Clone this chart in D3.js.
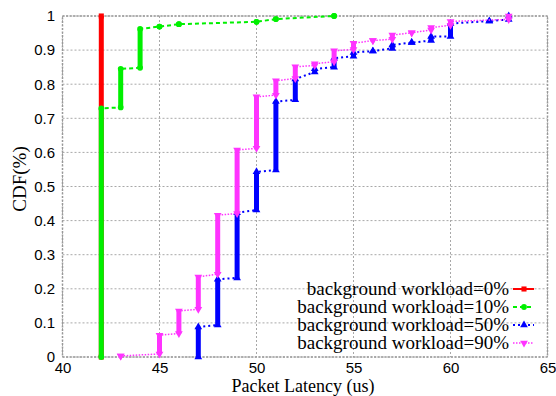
<!DOCTYPE html>
<html>
<head>
<meta charset="utf-8">
<script src="https://cdn.jsdelivr.net/npm/d3@7"></script>
<style>
  html, body { margin: 0; padding: 0; background: #fff; }
  svg { display: block; }
</style>
</head>
<body>
<svg id="chart" width="556" height="396"></svg>
<script>
// ---- data ----
const xTicks = [40, 45, 50, 55, 60, 65];
const xTickLabels = ["40", "45", "50", "55", "60", "65"];
const yTicks = [0, 0.1, 0.2, 0.3, 0.4, 0.5, 0.6, 0.7, 0.8, 0.9, 1];
const yTickLabels = ["0", "0.1", "0.2", "0.3", "0.4", "0.5", "0.6", "0.7", "0.8", "0.9", "1"];

const seriesNames = ["background workload=0%", "background workload=10%", "background workload=50%", "background workload=90%"];

// latency (us) and the CDF range covered by the samples at that latency
const redLatency = [42];
const redLow = [0];
const redHigh = [1];

const greenLatency = [42, 43, 44, 45, 46, 50, 51, 54];
const greenLow  = [0,     0.732, 0.848, 0.969, 0.976, 0.983, 0.991, 1.0];
const greenHigh = [0.729, 0.845, 0.962, 0.969, 0.976, 0.983, 0.991, 1.0];

const blueLatency = [47, 48, 49, 50, 51, 52, 53, 54, 55, 56, 57, 58, 59, 60, 62, 63];
const blueLow  = [0,     0.094, 0.232, 0.431, 0.548, 0.754, 0.836, 0.850, 0.882, 0.897, 0.905, 0.922, 0.928, 0.940, 0.985, 0.990];
const blueHigh = [0.088, 0.228, 0.423, 0.543, 0.749, 0.815, 0.845, 0.876, 0.893, 0.897, 0.915, 0.922, 0.940, 0.978, 0.985, 1.0];

const magentaLatency = [43, 45, 46, 47, 48, 49, 50, 51, 52, 53, 54, 55, 56, 57, 58, 59, 60, 63];
const magentaLow  = [0.003, 0.009, 0.069, 0.140, 0.243, 0.421, 0.612, 0.768, 0.817, 0.855, 0.866, 0.902, 0.928, 0.932, 0.951, 0.959, 0.973, 0.990];
const magentaHigh = [0.003, 0.064, 0.135, 0.235, 0.416, 0.607, 0.763, 0.810, 0.851, 0.860, 0.898, 0.920, 0.928, 0.944, 0.951, 0.966, 0.984, 1.0];

// ---- styles ----
const styles = [
  { color: "#ff0000", dash: null,      lw: 2,   marker: "square" },
  { color: "#00f000", dash: "4,3",     lw: 2,   marker: "circle" },
  { color: "#0000ff", dash: "2,3",     lw: 2,   marker: "triUp" },
  { color: "#ff33ff", dash: "1.5,1.5", lw: 1.5, marker: "triDown" }
];
const series = [
  { lat: redLatency, lo: redLow, hi: redHigh },
  { lat: greenLatency, lo: greenLow, hi: greenHigh },
  { lat: blueLatency, lo: blueLow, hi: blueHigh },
  { lat: magentaLatency, lo: magentaLow, hi: magentaHigh }
];

const svg = d3.select("#chart");
const pLeft = 62.5, pRight = 547.5, pTop = 16, pBottom = 357;
const x = d3.scaleLinear().domain([40, 65]).range([pLeft, pRight]);
const y = d3.scaleLinear().domain([0, 1]).range([pBottom, pTop]);

// grid
const grid = svg.append("g").attr("stroke", "#a8a8a8").attr("stroke-width", 1).attr("stroke-dasharray", "2,2");
grid.selectAll("line.gx").data(xTicks).join("line")
  .attr("x1", d => x(d)).attr("x2", d => x(d)).attr("y1", pTop).attr("y2", pBottom);
grid.selectAll("line.gy").data(yTicks).join("line")
  .attr("x1", pLeft).attr("x2", pRight).attr("y1", d => y(d)).attr("y2", d => y(d));
svg.append("rect").attr("x", pLeft).attr("y", pTop).attr("width", pRight - pLeft).attr("height", pBottom - pTop)
  .attr("fill", "none").attr("stroke", "#999").attr("stroke-width", 1.5).attr("stroke-dasharray", "2,1.5");

// axes
const xAxis = svg.append("g").attr("transform", `translate(0,${pBottom})`)
  .call(d3.axisBottom(x).tickValues(xTicks).tickFormat((d, i) => xTickLabels[i]).tickSize(0).tickPadding(5));
const yAxis = svg.append("g").attr("transform", `translate(${pLeft},0)`)
  .call(d3.axisLeft(y).tickValues(yTicks).tickFormat((d, i) => yTickLabels[i]).tickSize(0).tickPadding(7.5));
[xAxis, yAxis].forEach(a => {
  a.select(".domain").remove();
  a.attr("font-family", "'Liberation Sans', Arial, sans-serif").attr("font-size", 15);
  a.selectAll("text").attr("fill", "#000");
});

// marker symbol
function markerPath(type, size) {
  const map = { square: d3.symbolSquare, circle: d3.symbolCircle, triUp: d3.symbolTriangle, triDown: d3.symbolTriangle };
  return d3.symbol().type(map[type]).size(size)();
}
function drawMarker(g, type, cx, cy, color, size) {
  g.append("path").attr("d", markerPath(type, size))
    .attr("transform", `translate(${cx},${cy})` + (type === "triDown" ? " rotate(180)" : ""))
    .attr("fill", color);
}

const plot = svg.append("g");
series.forEach((s, k) => {
  const st = styles[k];
  const g = plot.append("g");
  const pts = [];
  s.lat.forEach((l, i) => { pts.push([l, s.lo[i]]); pts.push([l, s.hi[i]]); });
  const line = d3.line().x(d => x(d[0])).y(d => y(d[1]));
  g.append("path").attr("d", line(pts)).attr("fill", "none")
    .attr("stroke", st.color).attr("stroke-width", st.lw)
    .attr("stroke-dasharray", st.dash);
  // stacked samples at one latency -> thick vertical bar
  s.lat.forEach((l, i) => {
    if (s.hi[i] > s.lo[i]) {
      g.append("line").attr("x1", x(l)).attr("x2", x(l))
        .attr("y1", y(s.lo[i])).attr("y2", y(s.hi[i]))
        .attr("stroke", st.color).attr("stroke-width", 5);
    }
    drawMarker(g, st.marker, x(l), y(s.lo[i]), st.color, 26);
    drawMarker(g, st.marker, x(l), y(s.hi[i]), st.color, 26);
  });
});

// legend
const legY = [289, 307, 325, 343];
const leg = svg.append("g");
seriesNames.forEach((name, k) => {
  const st = styles[k];
  leg.append("text").attr("x", 509).attr("y", legY[k] + 6).attr("text-anchor", "end")
    .attr("font-family", "'Liberation Serif', 'Times New Roman', serif").attr("font-size", 19)
    .attr("fill", "#000").text(name);
  leg.append("line").attr("x1", 513).attr("x2", 534).attr("y1", legY[k]).attr("y2", legY[k])
    .attr("stroke", st.color).attr("stroke-width", st.lw).attr("stroke-dasharray", st.dash);
  drawMarker(leg, st.marker, 524, legY[k], st.color, 26);
});

// axis titles
svg.append("text").attr("x", 303).attr("y", 391.5).attr("text-anchor", "middle")
  .attr("font-family", "'Liberation Serif', 'Times New Roman', serif").attr("font-size", 18)
  .text("Packet Latency (us)");
svg.append("text").attr("transform", "translate(26,179) rotate(-90)").attr("text-anchor", "middle")
  .attr("font-family", "'Liberation Serif', 'Times New Roman', serif").attr("font-size", 19)
  .text("CDF(%)");
</script>
</body>
</html>
